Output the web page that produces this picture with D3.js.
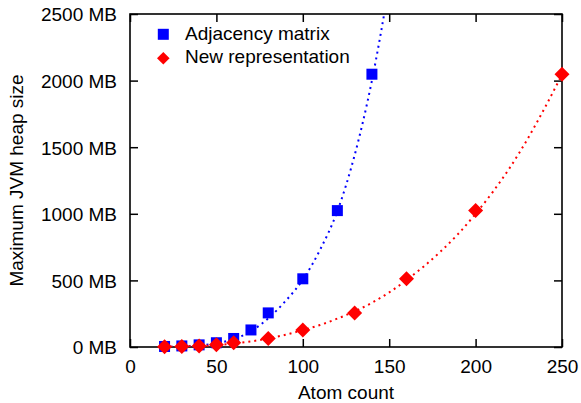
<!DOCTYPE html>
<html>
<head>
<meta charset="utf-8">
<script src="https://cdn.jsdelivr.net/npm/d3@7"></script>
<style>
  body { margin: 0; background: #fff; }
  svg { font-family: "Liberation Sans", Arial, sans-serif; }
</style>
</head>
<body>
<svg id="chart" width="581" height="403"></svg>
<script>
// Measured points
const atomsAdj = [20, 30, 40, 50, 60, 70, 80, 100, 120, 140];
const heapAdj = [4, 8, 16, 32, 64, 128, 256, 512, 1024, 2048];
const atomsNew = [20, 30, 40, 50, 60, 80, 100, 130, 160, 200, 250];
const heapNew = [2, 4, 8, 16, 32, 64, 128, 256, 512, 1024, 2048];

// Fitted curves
const fitAdjX = [20, 30, 40, 50, 60, 70, 80, 90, 100, 110, 120, 130, 140, 150];
const fitAdjY = [1, 4, 12, 28, 60, 118, 215, 345, 505, 730, 1020, 1440, 2000, 2720];
const fitNewX = [20, 30, 40, 50, 60, 70, 80, 90, 100, 110, 120, 130, 140, 150, 160, 170, 180, 190, 200, 210, 220, 230, 240, 250];
const fitNewY = [1, 3, 7, 14, 26, 42, 64, 92, 127, 165, 213, 268, 332, 410, 502, 605, 720, 850, 1000, 1165, 1350, 1560, 1795, 2045];

const xTicks = [0, 50, 100, 150, 200, 250];
const yTicks = [0, 500, 1000, 1500, 2000, 2500];

const legendItems = ["Adjacency matrix", "New representation"];

const svg = d3.select("#chart");
const margin = { top: 14, right: 19, bottom: 56, left: 130 };
const width = +svg.attr("width");
const height = +svg.attr("height");
const innerWidth = width - margin.left - margin.right;
const innerHeight = height - margin.top - margin.bottom;

const g = svg.append("g")
  .attr("transform", `translate(${margin.left},${margin.top})`);

const x = d3.scaleLinear().domain([0, 250]).range([0, innerWidth]);
const y = d3.scaleLinear().domain([0, 2500]).range([innerHeight, 0]);

const fontSize = "19px";

// Axes (ticks point inward, mirrored on top/right)
const xAxis = g.append("g")
  .attr("transform", `translate(0,${innerHeight})`)
  .call(d3.axisBottom(x).tickValues(xTicks).tickSizeInner(-8).tickSizeOuter(0));
xAxis.selectAll("text")
  .attr("y", 0)
  .attr("dy", 26)
  .attr("fill", "#000")
  .style("font-size", fontSize);

const yAxis = g.append("g")
  .call(d3.axisLeft(y).tickValues(yTicks).tickSizeInner(-8).tickSizeOuter(0)
    .tickFormat(d => d + " MB"));
yAxis.selectAll("text")
  .attr("x", -13)
  .attr("dy", "0.36em")
  .attr("fill", "#000")
  .style("font-size", fontSize);

g.append("g")
  .call(d3.axisTop(x).tickValues(xTicks).tickSizeInner(-8).tickSizeOuter(0).tickFormat(""));
g.append("g")
  .attr("transform", `translate(${innerWidth},0)`)
  .call(d3.axisRight(y).tickValues(yTicks).tickSizeInner(-8).tickSizeOuter(0).tickFormat(""));

g.selectAll(".domain").remove();
g.selectAll(".tick line").attr("stroke", "#000").attr("stroke-width", 1.5);

// Border
g.append("rect")
  .attr("width", innerWidth)
  .attr("height", innerHeight)
  .attr("fill", "none")
  .attr("stroke", "#000")
  .attr("stroke-width", 1.6);

// Axis labels
svg.append("text")
  .attr("x", margin.left + innerWidth / 2)
  .attr("y", 399)
  .attr("text-anchor", "middle")
  .style("font-size", fontSize)
  .text("Atom count");

svg.append("text")
  .attr("transform", `translate(23,${margin.top + innerHeight / 2}) rotate(-90)`)
  .attr("text-anchor", "middle")
  .style("font-size", fontSize)
  .text("Maximum JVM heap size");

// Clip for fit lines
svg.append("defs").append("clipPath")
  .attr("id", "plot-clip")
  .append("rect")
  .attr("width", innerWidth)
  .attr("height", innerHeight);

const line = d3.line()
  .x(d => x(d[0]))
  .y(d => y(d[1]))
  .curve(d3.curveMonotoneX);

function drawFit(xs, ys, color) {
  g.append("path")
    .datum(xs.map((v, i) => [v, ys[i]]))
    .attr("clip-path", "url(#plot-clip)")
    .attr("fill", "none")
    .attr("stroke", color)
    .attr("stroke-width", 2)
    .attr("stroke-dasharray", "2,4")
    .attr("d", line);
}

const sq = 11;
const dm = 7.5;
const diamond = (cx, cy, r) => `M${cx},${cy - r}L${cx + r},${cy}L${cx},${cy + r}L${cx - r},${cy}Z`;

// Adjacency matrix
g.selectAll(".sq")
  .data(atomsAdj.map((v, i) => [v, heapAdj[i]]))
  .enter().append("rect")
  .attr("x", d => x(d[0]) - sq / 2)
  .attr("y", d => y(d[1]) - sq / 2)
  .attr("width", sq)
  .attr("height", sq)
  .attr("fill", "#0000ff");
drawFit(fitAdjX, fitAdjY, "#0000ff");

// New representation
g.selectAll(".dm")
  .data(atomsNew.map((v, i) => [v, heapNew[i]]))
  .enter().append("path")
  .attr("d", d => diamond(x(d[0]), y(d[1]), dm))
  .attr("fill", "#ff0000");
drawFit(fitNewX, fitNewY, "#ff0000");

// Legend
const legend = svg.append("g");
legend.append("rect")
  .attr("x", 163.3 - sq / 2)
  .attr("y", 34.3 - sq / 2)
  .attr("width", sq)
  .attr("height", sq)
  .attr("fill", "#0000ff");
legend.append("path")
  .attr("d", diamond(163.3, 58.3, 6.3))
  .attr("fill", "#ff0000");
legend.selectAll("text")
  .data(legendItems)
  .enter().append("text")
  .attr("x", 185)
  .attr("y", (d, i) => 40 + i * 23.3)
  .style("font-size", fontSize)
  .text(d => d);
</script>
</body>
</html>
